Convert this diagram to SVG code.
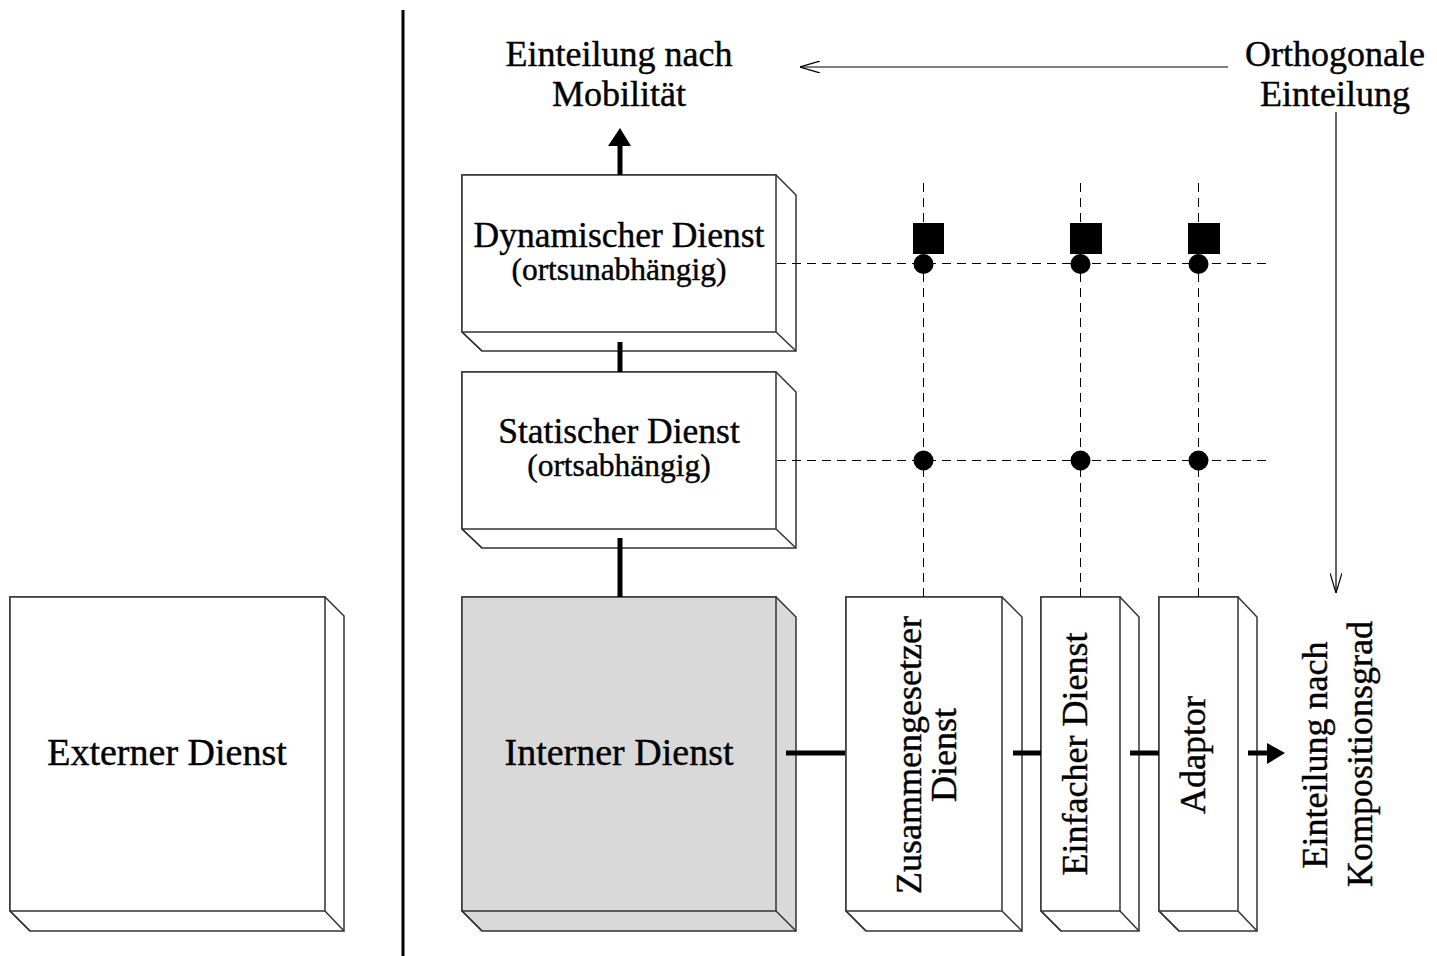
<svg xmlns="http://www.w3.org/2000/svg" width="1437" height="956" viewBox="0 0 1437 956">
<style>
text{font-family:"Liberation Serif","Times New Roman",serif;fill:#000;stroke:#000;stroke-width:0.4;text-anchor:middle}
.t{font-size:36px}
.m{font-size:35.5px}
.b{font-size:38px}
.s{font-size:31.5px}
.box{fill:#fff;stroke:#333;stroke-width:1.5;stroke-linejoin:miter}
.gray{fill:#d9d9d9}
.thick{stroke:#000;stroke-width:5;fill:none}
.dash{stroke:#000;stroke-width:1;stroke-dasharray:9,6;fill:none}
.thin{stroke:#000;stroke-width:1.2;fill:none}
</style>
<defs>
<marker id="open" viewBox="0 0 20 12" refX="20" refY="6" markerWidth="20" markerHeight="12" markerUnits="userSpaceOnUse" orient="auto">
<path d="M0,0 L20,6 L0,12" fill="none" stroke="#000" stroke-width="1.2"/>
</marker>
</defs>
<rect width="1437" height="956" fill="#fff"/>
<line x1="403" y1="10" x2="403" y2="956" stroke="#000" stroke-width="3"/>

<g id="label-mobilitaet">
<text class="t" x="619" y="66">Einteilung nach</text>
<text class="t" x="619" y="106">Mobilität</text>
</g>
<g id="label-orthogonal">
<text class="t" x="1335" y="66">Orthogonale</text>
<text class="t" x="1335" y="106">Einteilung</text>
</g>

<g id="dynamisch">
<path class="box" d="M462,175 L776,175 L796,195 L796,351 L482,351 L462,332 Z"/>
<path class="box" d="M462,175 H776 V332 H462 Z M776,332 L796,351 M462,332 L482,351"/>
<text class="m" x="619" y="247">Dynamischer Dienst</text>
<text class="s" x="619" y="280">(ortsunabhängig)</text>
</g>

<g id="statisch">
<path class="box" d="M462,372 L776,372 L796,392 L796,548 L482,548 L462,529 Z"/>
<path class="box" d="M462,372 H776 V529 H462 Z M776,529 L796,548 M462,529 L482,548"/>
<text class="m" x="619" y="443">Statischer Dienst</text>
<text class="s" x="619" y="476">(ortsabhängig)</text>
</g>

<g id="intern">
<path class="box gray" d="M462,597 L776,597 L796,617 L796,931 L482,931 L462,911 Z"/>
<path class="box gray" d="M462,597 H776 V911 H462 Z M776,911 L796,931 M462,911 L482,931"/>
<text class="b" x="619" y="765">Interner Dienst</text>
</g>

<g id="extern">
<path class="box" d="M10,597 L325,597 L344,616 L344,931 L30,931 L10,911 Z"/>
<path class="box" d="M10,597 H325 V911 H10 Z M325,911 L344,931 M10,911 L30,931"/>
<text class="b" x="167" y="765">Externer Dienst</text>
</g>

<g id="zusammengesetzt">
<path class="box" d="M846,597 L1002,597 L1022,617 L1022,931 L866,931 L846,911 Z"/>
<path class="box" d="M846,597 H1002 V911 H846 Z M1002,911 L1022,931 M846,911 L866,931"/>
<text class="t" transform="translate(921,755) rotate(-90)">Zusammengesetzer</text>
<text class="t" transform="translate(956,755) rotate(-90)">Dienst</text>
</g>

<g id="einfach">
<path class="box" d="M1041,597 L1120,597 L1139,617 L1139,931 L1061,931 L1041,911 Z"/>
<path class="box" d="M1041,597 H1120 V911 H1041 Z M1120,911 L1139,931 M1041,911 L1061,931"/>
<text class="t" transform="translate(1087,754) rotate(-90)">Einfacher Dienst</text>
</g>

<g id="adaptor">
<path class="box" d="M1159,597 L1238,597 L1257,617 L1257,931 L1179,931 L1159,911 Z"/>
<path class="box" d="M1159,597 H1238 V911 H1159 Z M1238,911 L1257,931 M1159,911 L1179,931"/>
<text class="t" transform="translate(1205,755) rotate(-90)">Adaptor</text>
</g>

<g id="label-komposition">
<text class="t" transform="translate(1327,755) rotate(-90)">Einteilung nach</text>
<text class="t" transform="translate(1372,754) rotate(-90)">Kompositionsgrad</text>
</g>

<g id="connectors">
<line class="dash" x1="777" y1="263.5" x2="1267" y2="263.5"/>
<line class="dash" x1="777" y1="460.5" x2="1267" y2="460.5"/>
<line class="dash" x1="923.5" y1="183" x2="923.5" y2="597"/>
<line class="dash" x1="1080.5" y1="183" x2="1080.5" y2="597"/>
<line class="dash" x1="1198.5" y1="183" x2="1198.5" y2="597"/>
<line class="thick" x1="620" y1="145" x2="620" y2="175"/>
<polygon points="608,146 620,128 631,146" fill="#000"/>
<line class="thick" x1="620" y1="342" x2="620" y2="372"/>
<line class="thick" x1="620" y1="538" x2="620" y2="597"/>
<line class="thick" x1="786" y1="753" x2="845" y2="753"/>
<line class="thick" x1="1013" y1="753" x2="1041" y2="753"/>
<line class="thick" x1="1130" y1="753" x2="1159" y2="753"/>
<line class="thick" x1="1248" y1="753" x2="1268" y2="753"/>
<polygon points="1267,743 1285,753 1267,764" fill="#000"/>
<line class="thin" x1="1228" y1="67" x2="800" y2="67" marker-end="url(#open)"/>
<line class="thin" x1="1336" y1="112" x2="1336" y2="593" marker-end="url(#open)"/>
</g>

<g id="markers">
<rect x="913" y="223" width="31" height="31" fill="#000"/>
<rect x="1070" y="223" width="32" height="31" fill="#000"/>
<rect x="1188" y="223" width="32" height="31" fill="#000"/>
<circle cx="923.5" cy="264" r="10" fill="#000"/>
<circle cx="1080.5" cy="264" r="10" fill="#000"/>
<circle cx="1198.5" cy="264" r="10" fill="#000"/>
<circle cx="923.5" cy="460.5" r="10" fill="#000"/>
<circle cx="1080.5" cy="460.5" r="10" fill="#000"/>
<circle cx="1198.5" cy="460.5" r="10" fill="#000"/>
</g>
</svg>
